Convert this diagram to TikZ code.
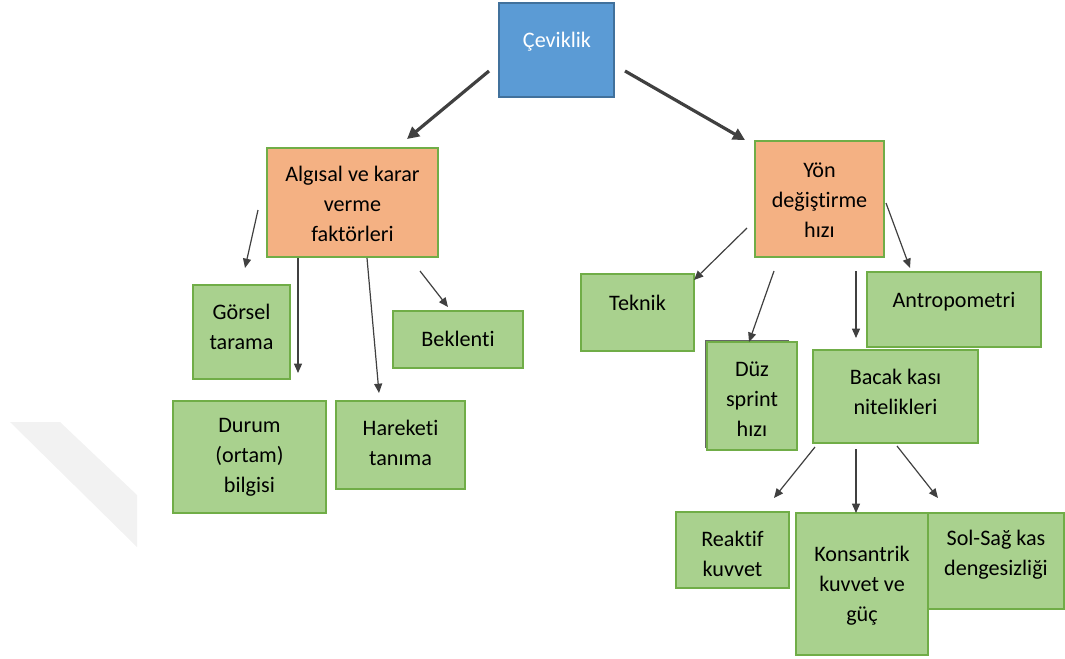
\documentclass[tikz,border=0pt]{standalone}
\usepackage{fontspec}
\setmainfont[Ligatures=NoCommon]{Carlito}
\usetikzlibrary{arrows.meta}
\definecolor{cblue}{HTML}{5B9BD5}
\definecolor{cblueb}{HTML}{41719C}
\definecolor{corange}{HTML}{F4B183}
\definecolor{cgreen}{HTML}{A9D18E}
\definecolor{cgreenb}{HTML}{70AD47}
\definecolor{carrow}{HTML}{404040}
\definecolor{cwater}{HTML}{F2F2F2}
\tikzset{
  boxbase/.style={draw=cgreenb, line width=1.7pt, inner sep=0pt, outer sep=0pt},
  gbox/.style={boxbase, fill=cgreen},
  obox/.style={boxbase, fill=corange},
  bbox/.style={draw=cblueb, line width=1.4pt, fill=cblue, inner sep=0pt},
  txt/.style={font=\fontsize{16.6}{22.5}\selectfont, align=center, inner sep=0pt, text=black},
  thin arrow/.style={draw=carrow, line width=0.9pt, -{Triangle[length=7pt,width=6pt]}},
  thick arrow/.style={draw=carrow, line width=2.4pt, -{Triangle[length=9pt,width=9pt]}}
}
\begin{document}
\begin{tikzpicture}[x=0.75pt,y=-0.75pt]
\useasboundingbox (0,0) rectangle (1065,658);
% watermark
\fill[cwater] (10,422) -- (60,422) -- (137,495) -- (137,547) -- cycle;

% top
\draw[bbox] (499,3) rectangle (614,97);
\node[txt, text=white] (cev) at (557,42) {Çeviklik};

% second level
\draw[obox] (267,148) rectangle (438,257);
\node[txt] (alg) at (352.5,204) {Algısal ve karar\\verme\\faktörleri};
\draw[obox] (755,141) rectangle (884,257);
\node[txt] (yon) at (819.5,200) {Yön\\değiştirme\\hızı};

% left children
\draw[gbox] (193,285) rectangle (290,379);
\node[txt] (gor) at (241.5,327) {Görsel\\tarama};
\draw[gbox] (393,311) rectangle (523,368);
\node[txt] (bek) at (458,339) {Beklenti};
\draw[gbox] (173,401) rectangle (326,513);
\node[txt] (dur) at (249.5,457) {Durum\\(ortam)\\bilgisi};
\draw[gbox] (336,401) rectangle (465,489);
\node[txt] (har) at (400.5,443) {Hareketi\\tanıma};

% right children
\draw[gbox] (581,274) rectangle (694,351);
\node[txt] (tek) at (637.5,303) {Teknik};
\draw[draw=gray!80!black, line width=1pt] (706,341) rectangle (788,447);
\draw[gbox] (707,342) rectangle (797,450);
\node[txt] (duz) at (752,399) {Düz\\sprint\\hızı};
\draw[gbox] (867,272) rectangle (1041,347);
\node[txt] (ant) at (954,302) {Antropometri};
\draw[gbox] (813,350) rectangle (978,443);
\node[txt] (bac) at (895.5,392) {Bacak kası\\nitelikleri};

% bottom
\draw[gbox] (676,512) rectangle (789,588);
\node[txt] (rea) at (732.5,553.5) {Reaktif\\kuvvet};
\draw[gbox] (928,513) rectangle (1064,609);
\node[txt] (sol) at (996,555) {Sol-Sağ kas\\dengesizliği};
\draw[gbox] (796,513) rectangle (928,655);
\node[txt] (kon) at (862,586) {Konsantrik\\kuvvet ve\\güç};

% arrow endpoints
\coordinate (a1s) at (489,71);  \coordinate (a1e) at (407,139);
\coordinate (a2s) at (625,71);  \coordinate (a2e) at (745,140);
\coordinate (b1s) at (258,210); \coordinate (b1e) at (245,268);
\coordinate (b2s) at (298,258); \coordinate (b2e) at (298,373);
\coordinate (b3s) at (367,258); \coordinate (b3e) at (379,393);
\coordinate (b4s) at (420,271); \coordinate (b4e) at (448,307);
\coordinate (c1s) at (747,228); \coordinate (c1e) at (694,280);
\coordinate (c2s) at (774,271); \coordinate (c2e) at (749,342);
\coordinate (c3s) at (856,271); \coordinate (c3e) at (856,338);
\coordinate (c4s) at (886,203); \coordinate (c4e) at (910,268);
\coordinate (d1s) at (815,447); \coordinate (d1e) at (774,498);
\coordinate (d2s) at (856,449); \coordinate (d2e) at (856,513);
\coordinate (d3s) at (897,446); \coordinate (d3e) at (938,498);

\draw[thick arrow] (a1s) -- (a1e);
\draw[thick arrow] (a2s) -- (a2e);
\foreach \p in {b1,b2,b3,b4,c1,c2,c3,c4,d1,d2,d3}
  \draw[thin arrow] (\p s) -- (\p e);
\end{tikzpicture}
\end{document}
